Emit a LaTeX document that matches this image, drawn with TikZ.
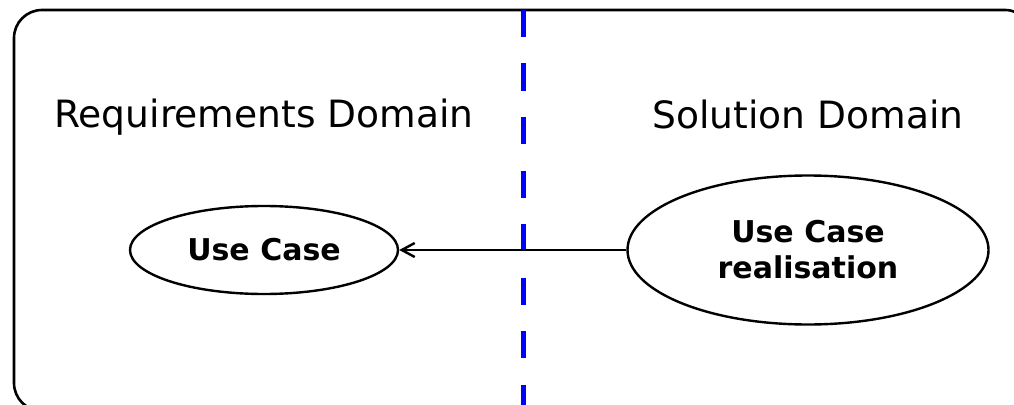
\documentclass[tikz,border=0pt]{standalone}
\usepackage{fontspec}
\setmainfont{DejaVu Sans}
\usetikzlibrary{shapes.geometric,arrows.meta}
\tikzset{
  frame/.style={draw=black,line width=2.6pt,rounded corners=28pt},
  divider/.style={draw={rgb,255:red,0;green,0;blue,255},line width=5pt,dash pattern=on 27pt off 26.5pt},
  title/.style={font=\fontsize{37.6}{45}\selectfont,anchor=base,inner sep=0pt},
  usecase/.style={ellipse,draw=black,line width=2.4pt,inner sep=0pt,align=center,
    font=\fontsize{30}{36}\selectfont\bfseries},
  link/.style={draw=black,line width=2.4pt,-{Straight Barb[length=13pt,width=14pt,line width=2.4pt]}}
}
\begin{document}
\begin{tikzpicture}[x=1pt,y=1pt]
\clip (0,0) rectangle (1014,-404);
\fill[white] (0,0) rectangle (1014,-404);
\draw[frame] (14,-10) rectangle (1033,-411);
\coordinate (dtop) at (523,-10);
\coordinate (dbot) at (523,-420);
\draw[divider] (dtop) -- (dbot);
\node[title] (req) at (264,-127) {Requirements Domain};
\node[title] (sol) at (808,-128) {Solution Domain};
\node[usecase,minimum width=268pt,minimum height=88pt] (uc) at (264,-250) {Use Case};
\node[usecase,minimum width=361pt,minimum height=149pt] (ucr) at (808,-250) {Use Case\\realisation};
\draw[link] (ucr.west) -- (uc.east);
\end{tikzpicture}
\end{document}
